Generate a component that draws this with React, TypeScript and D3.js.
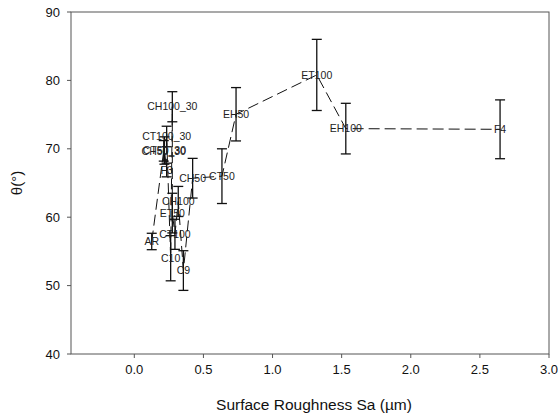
import React from "react";
import * as d3 from "d3";

const labels = ["AR","CH50_30","CT50_30","F3","CT100_30","C10","CH100_30","ET50","CT100","CH100","C9","CH50","CT50","EH50","ET100","EH100","F4"];
const roughness = [0.126,0.213,0.218,0.234,0.234,0.263,0.275,0.275,0.294,0.318,0.355,0.422,0.634,0.736,1.32,1.53,2.646];
const angle = [56.45,69.7,69.75,66.9,71.8,54.0,76.15,60.6,57.5,62.3,52.2,65.7,66.0,75.05,80.8,72.95,72.85];
const angleErr = [1.2,1.5,2.0,1.0,1.5,3.3,2.2,2.9,2.2,2.2,2.9,2.9,4.0,3.9,5.2,3.7,4.3];
const xTicks = [0,0.5,1,1.5,2,2.5,3];
const yTicks = [40,50,60,70,80,90];

const W = 558, H = 419;
const L = 71, R = 549, T = 12, B = 354;

export default function App() {
  const x = d3.scaleLinear().domain([-0.458, 3.0]).range([L, R]);
  const y = d3.scaleLinear().domain([40, 90]).range([B, T]);
  const pts = labels.map((l, i) => ({ l, x: roughness[i], y: angle[i], e: angleErr[i] }));
  const sorted = [...pts].sort((a, b) => a.x - b.x);
  const line = d3.line<any>().x(d => x(d.x)).y(d => y(d.y))(sorted) || "";
  const font = "Arial, 'Liberation Sans', sans-serif";
  return (
    <svg width={W} height={H} style={{ position: "absolute", left: 0, top: 0, background: "#fff" }} fontFamily={font}>
      <rect x={L} y={T} width={R - L} height={B - T} fill="none" stroke="#555" strokeWidth={1} />
      <path d={line} fill="none" stroke="#111" strokeWidth={1} strokeDasharray="11,5" />
      {pts.map((p, i) => (
        <g key={"e" + i} stroke="#111" strokeWidth={1.3}>
          <line x1={x(p.x)} x2={x(p.x)} y1={y(p.y - p.e)} y2={y(p.y + p.e)} />
          <line x1={x(p.x) - 5} x2={x(p.x) + 5} y1={y(p.y - p.e)} y2={y(p.y - p.e)} />
          <line x1={x(p.x) - 5} x2={x(p.x) + 5} y1={y(p.y + p.e)} y2={y(p.y + p.e)} />
        </g>
      ))}
      {pts.map((p, i) => (
        <text key={"t" + i} x={x(p.x)} y={y(p.y)} dy="0.35em" textAnchor="middle" fontSize={10.5} fill="#222">{p.l}</text>
      ))}
      {xTicks.map(t => (
        <g key={"x" + t}>
          <line x1={x(t)} x2={x(t)} y1={B} y2={B + 4} stroke="#555" />
          <text x={x(t)} y={B + 20} textAnchor="middle" fontSize={13} fill="#111">{t.toFixed(1)}</text>
        </g>
      ))}
      {yTicks.map(t => (
        <g key={"y" + t}>
          <line x1={L - 4} x2={L} y1={y(t)} y2={y(t)} stroke="#555" />
          <text x={L - 11} y={y(t)} dy="0.35em" textAnchor="end" fontSize={13} fill="#111">{t}</text>
        </g>
      ))}
      <text x={(L + R) / 2 + 4} y={410} textAnchor="middle" fontSize={15.5} fill="#111">Surface Roughness Sa (µm)</text>
      <text transform={`translate(22,${(T + B) / 2}) rotate(-90)`} textAnchor="middle" fontSize={15} fill="#111">θ(°)</text>
    </svg>
  );
}
